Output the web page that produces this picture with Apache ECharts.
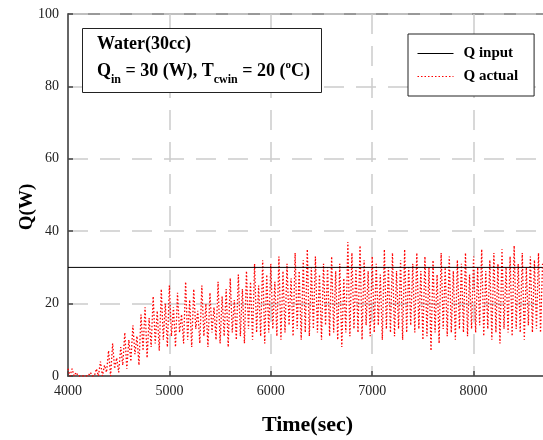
<!DOCTYPE html>
<html>
<head>
<meta charset="utf-8">
<script src="https://cdn.jsdelivr.net/npm/echarts@6/dist/echarts.min.js"></script>
<style>
html,body{margin:0;padding:0;background:#fff;}
#chart{width:543px;height:440px;}
</style>
</head>
<body>
<div id="chart"></div>
<script>
// Time axis samples (sec) for Q actual: 4000..8680 every 20 s
const actualStart = 4000;
const actualStep = 20;
// Q actual values (W)
const qActual = [
  2,0,2,0,1,0,0,0,0,0,
  0,1,0,0,2,0,4,0,3,1,
  7,0,9,2,5,1,8,3,12,2,
  10,4,14,6,11,3,17,7,19,5,
  16,8,22,9,18,7,24,10,20,8,
  25,11,19,8,23,12,17,9,26,10,
  21,8,24,13,18,9,25,11,20,8,
  23,12,19,10,26,9,22,11,24,8,
  27,12,21,10,28,11,24,9,29,13,
  26,10,31,12,25,11,32,9,28,12,
  31,13,26,11,33,10,29,12,31,14,
  27,11,34,13,29,10,32,12,35,11,
  30,13,33,12,28,10,31,14,30,11,
  33,12,29,10,31,8,27,12,37,11,
  34,13,30,12,36,10,32,14,29,11,
  33,12,31,14,28,10,35,13,30,12,
  34,11,29,13,32,10,35,12,30,14,
  31,12,34,13,29,10,33,11,30,7,
  32,12,28,9,34,13,30,11,33,12,
  29,10,32,13,31,12,34,11,28,13,
  33,12,30,14,35,11,29,13,32,10,
  34,12,31,9,35,13,30,12,33,11,
  36,13,31,12,34,10,30,14,33,12,
  32,13,34,12,31
];
const qInputTimes = [4000, 8680];
const qInputValues = [30, 30];
const xTicks = [4000, 5000, 6000, 7000, 8000];
const yTicks = [0, 20, 40, 60, 80, 100];

const actualTimes = qActual.map((v, i) => actualStart + i * actualStep);
const actualData = actualTimes.map((t, i) => [t, qActual[i]]);
const inputData = qInputTimes.map((t, i) => [t, qInputValues[i]]);

const serif = 'Liberation Serif, Times New Roman, serif';
const chart = echarts.init(document.getElementById('chart'));
chart.setOption({
  animation: false,
  backgroundColor: '#fff',
  grid: {left: 68, width: 507, top: 14, height: 362, outerBoundsMode: 'none', containLabel: false,
    show: true, borderColor: '#333', borderWidth: 1, backgroundColor: 'transparent'},
  xAxis: {
    type: 'value', min: 4000, max: 9000, interval: 1000,
    name: 'Time(sec)', nameLocation: 'middle', nameGap: 38, nameMoveOverlap: false,
    nameTextStyle: {fontFamily: serif, fontSize: 22, fontWeight: 'bold', color: '#000', padding: [0, 28, 0, 0]},
    axisLine: {show: true, onZero: false, lineStyle: {color: '#666', width: 2}},
    axisTick: {show: true, inside: true, length: 5, lineStyle: {color: '#444', width: 1.5}},
    axisLabel: {fontFamily: serif, fontSize: 14, color: '#222', margin: 8,
      formatter: v => xTicks.includes(v) ? String(v) : ''},
    splitLine: {show: true, lineStyle: {color: '#cccccc', width: 1.5, type: [20, 12]}}
  },
  yAxis: {
    type: 'value', min: 0, max: 100, interval: 20,
    name: 'Q(W)', nameLocation: 'middle', nameGap: 31, nameMoveOverlap: false,
    nameTextStyle: {fontFamily: serif, fontSize: 19, fontWeight: 'bold', color: '#000', padding: [0, 24, 0, 0]},
    axisLine: {show: true, lineStyle: {color: '#666', width: 2}},
    axisTick: {show: true, inside: true, length: 5, lineStyle: {color: '#444', width: 1.5}},
    axisLabel: {fontFamily: serif, fontSize: 14, color: '#222', margin: 9,
      formatter: v => yTicks.includes(v) ? String(v) : ''},
    splitLine: {show: true, lineStyle: {color: '#cccccc', width: 1.5, type: [20, 12]}}
  },
  legend: {
    orient: 'vertical', left: 408, top: 34,
    data: ['Q input', 'Q actual'],
    backgroundColor: '#fff', borderColor: '#222', borderWidth: 1,
    padding: [12, 16, 12, 9], itemWidth: 36, itemHeight: 15, itemGap: 8,
    itemStyle: {opacity: 0},
    lineStyle: {width: 1},
    textStyle: {fontFamily: serif, fontSize: 15, fontWeight: 'bold', color: '#000', padding: [0, 0, 0, 5]}
  },
  graphic: [
    {type: 'rect', left: 82, top: 28, z: 50,
      shape: {width: 239, height: 64},
      style: {fill: '#fff', stroke: '#222', lineWidth: 1}},
    {type: 'text', left: 97, top: 35, z: 51,
      style: {text: 'Water(30cc)', font: 'bold 18px ' + serif, fill: '#000'}},
    {type: 'text', left: 97, top: 60, z: 51,
      style: {
        text: '{m|Q}{s|in}{m| = 30 (W), T}{s|cwin}{m| = 20 (}{p|o}{m|C)}',
        rich: {
          m: {font: 'bold 18px ' + serif, fill: '#000', lineHeight: 22, verticalAlign: 'middle'},
          s: {font: 'bold 12px ' + serif, fill: '#000', lineHeight: 12, verticalAlign: 'bottom', padding: [0, 0, -4, 0]},
          p: {font: 'bold 11px ' + serif, fill: '#000', lineHeight: 11, verticalAlign: 'top'}
        }
      }}
  ],
  series: [
    {name: 'Q input', type: 'line', data: inputData, symbol: 'none', z: 3,
      lineStyle: {color: '#000', width: 1}, itemStyle: {color: '#000'}},
    {name: 'Q actual', type: 'line', data: actualData, symbol: 'none', z: 2,
      lineStyle: {color: '#ff0000', width: 1.3, type: [1.5, 2]}, itemStyle: {color: '#ff0000'}}
  ]
});
</script>
</body>
</html>
